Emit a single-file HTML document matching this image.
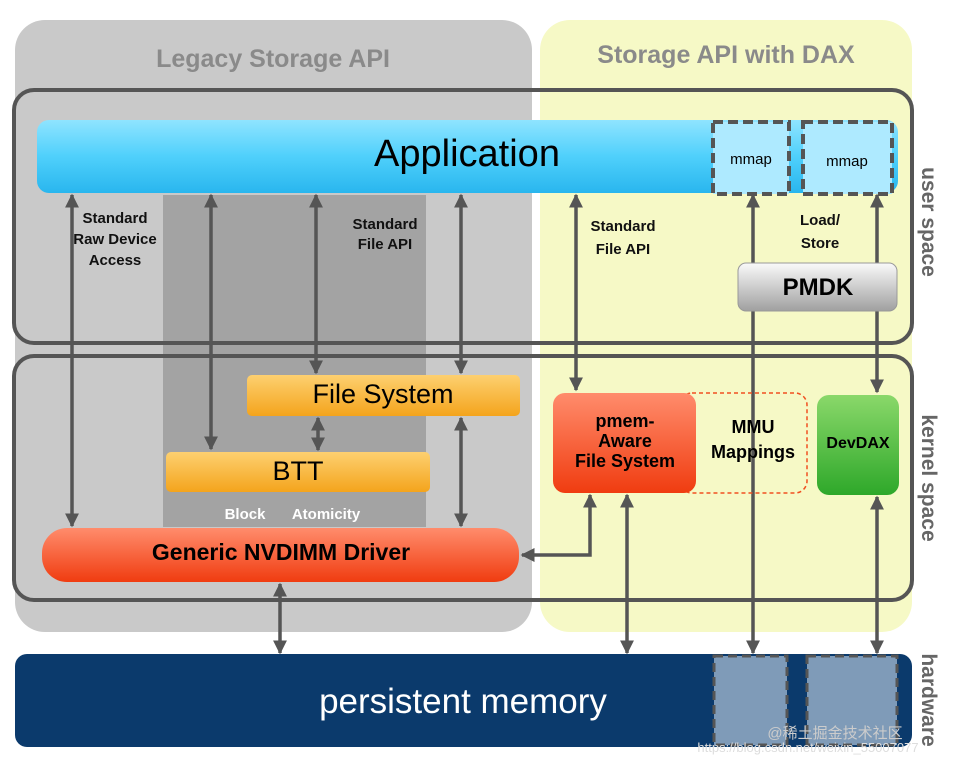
<!DOCTYPE html>
<html><head><meta charset="utf-8"><style>
body{margin:0;width:953px;height:767px;background:#fff;overflow:hidden;font-family:"Liberation Sans",sans-serif}
svg{position:absolute;left:0;top:0}
</style></head><body>
<svg width="953" height="767" viewBox="0 0 953 767" xmlns="http://www.w3.org/2000/svg">
<defs>
<linearGradient id="app" x1="0" y1="0" x2="0" y2="1"><stop offset="0" stop-color="#8fe4ff"/><stop offset="0.5" stop-color="#4fd0fb"/><stop offset="1" stop-color="#29b6ee"/></linearGradient>
<linearGradient id="org" x1="0" y1="0" x2="0" y2="1"><stop offset="0" stop-color="#fdd070"/><stop offset="1" stop-color="#f4a41c"/></linearGradient>
<linearGradient id="red" x1="0" y1="0" x2="0" y2="1"><stop offset="0" stop-color="#ff8c6c"/><stop offset="1" stop-color="#f03c10"/></linearGradient>
<linearGradient id="grn" x1="0" y1="0" x2="0" y2="1"><stop offset="0" stop-color="#8ad86a"/><stop offset="1" stop-color="#2ea82a"/></linearGradient>
<linearGradient id="gry" x1="0" y1="0" x2="0" y2="1"><stop offset="0" stop-color="#fafafa"/><stop offset="1" stop-color="#a0a0a0"/></linearGradient>
<marker id="a" viewBox="0 0 10 10" refX="9" refY="5" markerWidth="4" markerHeight="4" orient="auto-start-reverse"><path d="M0,0L10,5L0,10z" fill="#555"/></marker>
</defs>
<rect x="15" y="20" width="517" height="612" rx="30" fill="#c9c9c9"/>
<rect x="163" y="195" width="263" height="332" fill="#a3a3a3"/>
<rect x="540" y="20" width="372" height="612" rx="30" fill="#f6f9c6"/>
<text x="273" y="67" font-size="25" font-weight="bold" fill="#8a8a8a" text-anchor="middle">Legacy Storage API</text>
<text x="726" y="63" font-size="25" font-weight="bold" fill="#8a8a8a" text-anchor="middle">Storage API with DAX</text>
<rect x="14" y="90" width="898" height="253" rx="20" fill="none" stroke="#555" stroke-width="4"/>
<rect x="14" y="356" width="898" height="244" rx="20" fill="none" stroke="#555" stroke-width="4"/>
<rect x="37" y="120" width="861" height="73" rx="12" fill="url(#app)"/>
<text x="467" y="166" font-size="38" fill="#000" text-anchor="middle">Application</text>
<rect x="713" y="122" width="76" height="72" fill="#aeeaff" stroke="#555" stroke-width="4" stroke-dasharray="10,5"/>
<rect x="803" y="122" width="89" height="72" fill="#aeeaff" stroke="#555" stroke-width="4" stroke-dasharray="10,5"/>
<text x="751" y="164" font-size="15" text-anchor="middle">mmap</text>
<text x="847" y="166" font-size="15" text-anchor="middle">mmap</text>
<g font-size="15" font-weight="bold" text-anchor="middle" fill="#111">
<text x="115" y="223">Standard</text><text x="115" y="244">Raw Device</text><text x="115" y="265">Access</text>
<text x="385" y="229">Standard</text><text x="385" y="249">File API</text>
<text x="623" y="231">Standard</text><text x="623" y="254">File API</text>
<text x="820" y="225">Load/</text><text x="820" y="248">Store</text>
</g>
<g stroke="#555" stroke-width="3.5" fill="none" marker-start="url(#a)" marker-end="url(#a)">
<line x1="72" y1="195" x2="72" y2="526"/>
<line x1="211" y1="195" x2="211" y2="449"/>
<line x1="316" y1="195" x2="316" y2="373"/>
<line x1="461" y1="195" x2="461" y2="373"/>
<line x1="318" y1="418" x2="318" y2="450"/>
<line x1="461" y1="418" x2="461" y2="526"/>
<line x1="280" y1="584" x2="280" y2="653"/>
<line x1="576" y1="195" x2="576" y2="390"/>
<line x1="753" y1="195" x2="753" y2="653"/>
<line x1="877" y1="195" x2="877" y2="392"/>
<line x1="627" y1="495" x2="627" y2="653"/>
<line x1="877" y1="497" x2="877" y2="653"/>
<polyline points="590,495 590,555 522,555"/>
</g>
<rect x="738" y="263" width="159" height="48" rx="8" fill="url(#gry)" stroke="#999"/>
<text x="818" y="295" font-size="24" font-weight="bold" text-anchor="middle">PMDK</text>
<rect x="247" y="375" width="273" height="41" rx="5" fill="url(#org)"/>
<text x="383" y="403" font-size="27" text-anchor="middle">File System</text>
<rect x="166" y="452" width="264" height="40" rx="5" fill="url(#org)"/>
<text x="298" y="480" font-size="27" text-anchor="middle">BTT</text>
<text x="245" y="519" font-size="15" font-weight="bold" fill="#fff" text-anchor="middle">Block</text>
<text x="326" y="519" font-size="15" font-weight="bold" fill="#fff" text-anchor="middle">Atomicity</text>
<rect x="42" y="528" width="477" height="54" rx="25" fill="url(#red)"/>
<text x="281" y="560" font-size="23" font-weight="bold" text-anchor="middle">Generic NVDIMM Driver</text>
<rect x="680" y="393" width="127" height="100" rx="12" fill="none" stroke="#f05020" stroke-width="1.5" stroke-dasharray="4,3"/>
<rect x="553" y="393" width="143" height="100" rx="12" fill="url(#red)"/>
<g font-size="18" font-weight="bold" text-anchor="middle">
<text x="625" y="427">pmem-</text><text x="625" y="447">Aware</text><text x="625" y="467">File System</text>
<text x="753" y="433">MMU</text><text x="753" y="458">Mappings</text>
</g>
<rect x="817" y="395" width="82" height="100" rx="12" fill="url(#grn)"/>
<text x="858" y="448" font-size="16" font-weight="bold" text-anchor="middle">DevDAX</text>
<rect x="15" y="654" width="897" height="93" rx="12" fill="#0b3a6c"/>
<text x="463" y="713" font-size="35" fill="#fff" text-anchor="middle">persistent memory</text>
<rect x="714" y="656" width="73" height="89" fill="#7f9bb8" stroke="#555" stroke-width="3" stroke-dasharray="9,5"/>
<rect x="807" y="656" width="90" height="89" fill="#7f9bb8" stroke="#555" stroke-width="3" stroke-dasharray="9,5"/>
<g font-size="21" font-weight="bold" fill="#666">
<text transform="translate(922,222) rotate(90)" text-anchor="middle">user space</text>
<text transform="translate(922,478) rotate(90)" text-anchor="middle">kernel space</text>
<text transform="translate(922,700) rotate(90)" text-anchor="middle">hardware</text>
</g>
<text x="835" y="738" font-size="15" fill="#ccc" text-anchor="middle">@稀土掘金技术社区</text>
<text x="808" y="752" font-size="13" fill="#ddd" text-anchor="middle">https://blog.csdn.net/weixin_55007077</text>
</svg>
</body></html>
